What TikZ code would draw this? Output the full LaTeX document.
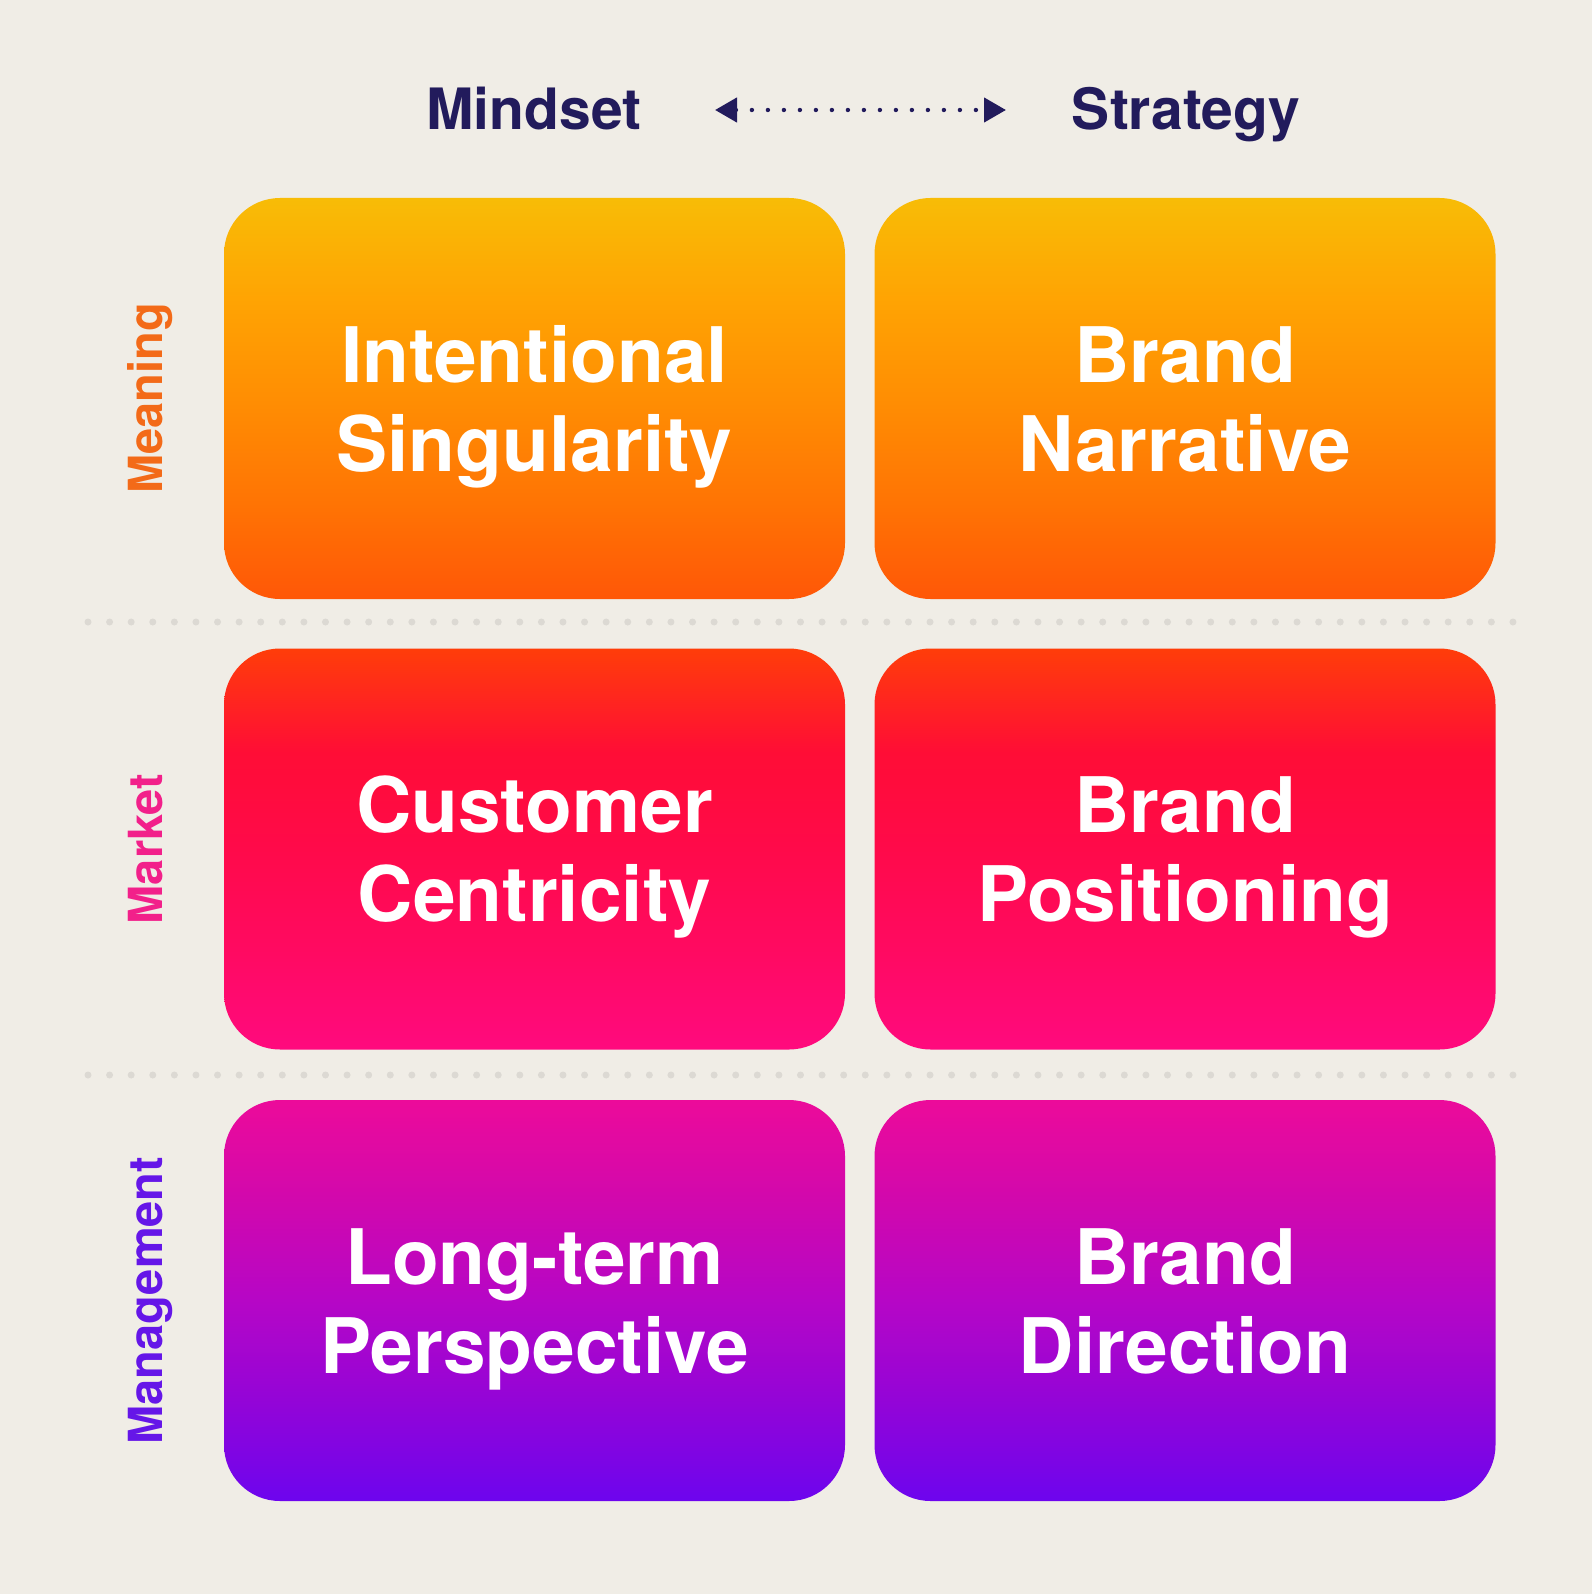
\documentclass[tikz,border=0pt]{standalone}
\usepackage{fontspec}
\setmainfont{TeX Gyre Heros}
\usetikzlibrary{arrows.meta,calc}
\definecolor{bgc}{HTML}{F0EDE6}
\definecolor{navyc}{HTML}{221B5C}
\definecolor{dotc}{HTML}{DCD9D3}
\definecolor{meaningc}{HTML}{F36A18}
\definecolor{marketc}{HTML}{F2208A}
\definecolor{managec}{HTML}{6516E8}
\definecolor{aA}{HTML}{FF5707}
\definecolor{aB}{HTML}{FF7404}
\definecolor{aC}{HTML}{FF8E03}
\definecolor{aD}{HTML}{FFA303}
\definecolor{aE}{HTML}{F8BC06}
\definecolor{bA}{HTML}{FF0A7E}
\definecolor{bB}{HTML}{FF0A62}
\definecolor{bC}{HTML}{FF0A4A}
\definecolor{bD}{HTML}{FF0D36}
\definecolor{bE}{HTML}{FF3D09}
\definecolor{cA}{HTML}{6D05EE}
\definecolor{cB}{HTML}{9205D8}
\definecolor{cC}{HTML}{B606C6}
\definecolor{cD}{HTML}{D008AE}
\definecolor{cE}{HTML}{EC0B9A}
\pgfdeclareverticalshading{rowone}{100bp}{color(0bp)=(aA); color(25bp)=(aA); color(37bp)=(aB); color(50bp)=(aC); color(62bp)=(aD); color(75bp)=(aE); color(100bp)=(aE)}
\pgfdeclareverticalshading{rowtwo}{100bp}{color(0bp)=(bA); color(25bp)=(bA); color(37bp)=(bB); color(50bp)=(bC); color(62bp)=(bD); color(75bp)=(bE); color(100bp)=(bE)}
\pgfdeclareverticalshading{rowthree}{100bp}{color(0bp)=(cA); color(25bp)=(cA); color(37bp)=(cB); color(50bp)=(cC); color(62bp)=(cD); color(75bp)=(cE); color(100bp)=(cE)}
\tikzset{
  cell/.style={draw=none, rounded corners=28pt, inner sep=0pt, minimum width=310.5pt, minimum height=200.5pt},
  celltext/.style={text=white, anchor=base, inner sep=0pt, font=\fontsize{38.3}{44}\selectfont\bfseries},
  headtext/.style={text=navyc, anchor=base, inner sep=0pt, font=\fontsize{28.5}{32}\selectfont\bfseries},
  sidetext/.style={rotate=90, anchor=base, inner sep=0pt, font=\fontsize{23.5}{28}\selectfont\bfseries},
  headarrow/.style={draw=navyc, line width=2.2pt, dash pattern=on 0pt off 8pt, line cap=round,
    {Triangle[length=11pt,width=12pt,fill=navyc]}-{Triangle[length=11pt,width=12pt,fill=navyc]}},
  sepdot/.style={fill=dotc}
}
\begin{document}
\begin{tikzpicture}[x=0.5pt,y=-0.5pt]
\fill[bgc] (0,0) rectangle (1592,1594);
\useasboundingbox (0,0) rectangle (1592,1594);

% header
\node[headtext] (mindset) at (534,130) {Mindset};
\node[headtext] (strategy) at (1186,130) {Strategy};
\coordinate (al) at (715,110);
\coordinate (ar) at (1006,110);
\draw[headarrow] (al) -- (ar);

% separators
\foreach \i in {0,...,66} {
  \fill[sepdot] ({88+\i*21.59},622) circle[radius=1.75pt];
  \fill[sepdot] ({88+\i*21.59},1075) circle[radius=1.75pt];
}

% cells
\node[cell, shading=rowone] (b11) at (534.5,398.5) {};
\node[cell, shading=rowone] (b12) at (1185,398.5) {};
\node[cell, shading=rowtwo] (b21) at (534.5,849) {};
\node[cell, shading=rowtwo] (b22) at (1185,849) {};
\node[cell, shading=rowthree] (b31) at (534.5,1300.5) {};
\node[cell, shading=rowthree] (b32) at (1185,1300.5) {};

\node[celltext] (t11a) at ($(b11.center)+(0,-16.5)$) {Intentional};
\node[celltext] (t11b) at ($(b11.center)+(0,72.5)$) {Singularity};
\node[celltext] (t12a) at ($(b12.center)+(0,-16.5)$) {Brand};
\node[celltext] (t12b) at ($(b12.center)+(0,72.5)$) {Narrative};
\node[celltext] (t21a) at ($(b21.center)+(0,-16.5)$) {Customer};
\node[celltext] (t21b) at ($(b21.center)+(0,72.5)$) {Centricity};
\node[celltext] (t22a) at ($(b22.center)+(0,-16.5)$) {Brand};
\node[celltext] (t22b) at ($(b22.center)+(0,72.5)$) {Positioning};
\node[celltext] (t31a) at ($(b31.center)+(0,-16.5)$) {Long-term};
\node[celltext] (t31b) at ($(b31.center)+(0,72.5)$) {Perspective};
\node[celltext] (t32a) at ($(b32.center)+(0,-16.5)$) {Brand};
\node[celltext] (t32b) at ($(b32.center)+(0,72.5)$) {Direction};

% side labels
\node[sidetext, text=meaningc] (lmeaning) at (162,398.5) {Meaning};
\node[sidetext, text=marketc] (lmarket) at (162,849) {Market};
\node[sidetext, text=managec] (lmanage) at (162,1300.5) {Management};
\end{tikzpicture}
\end{document}
